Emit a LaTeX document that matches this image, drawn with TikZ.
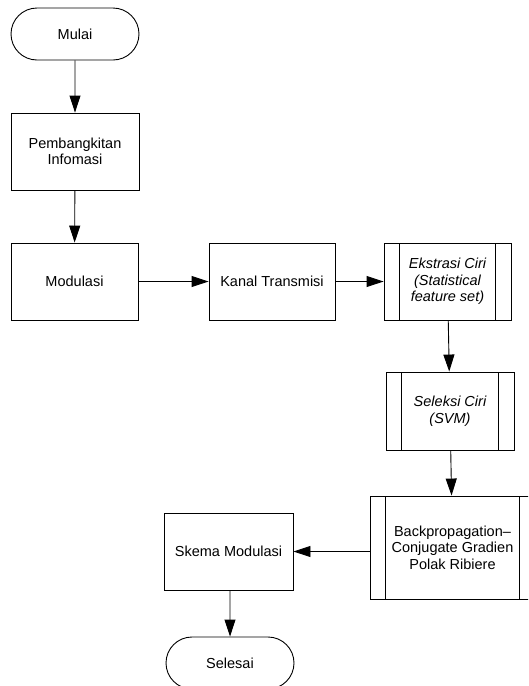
\documentclass[tikz,border=0pt]{standalone}
\usepackage{fontspec}
\setmainfont{Liberation Sans}
\usetikzlibrary{shapes.misc,arrows.meta}
\begin{document}
\begin{tikzpicture}[x=1pt,y=-1pt,
  every node/.style={font=\fontsize{14.5}{16.5}\selectfont, align=center, inner sep=0pt},
  terminal/.style={draw, rounded rectangle, minimum width=128pt, minimum height=52pt, line width=0.9pt},
  procbox/.style={draw, rectangle, line width=0.9pt},
  predef/.style={draw, rectangle, line width=0.9pt,
    path picture={
      \draw[line width=0.9pt] ([xshift=15.5pt]path picture bounding box.north west) -- ([xshift=15.5pt]path picture bounding box.south west);
      \draw[line width=0.9pt] ([xshift=-15.5pt]path picture bounding box.north east) -- ([xshift=-15.5pt]path picture bounding box.south east);}},
  flow/.style={-{Triangle[length=17pt,width=11pt]}, line width=0.9pt}]
\clip (0,0) rectangle (528,686);
\node[terminal] (mulai) at (75,34) {Mulai};
\node[procbox, minimum width=128pt, minimum height=77pt] (gen) at (75,151.5) {Pembangkitan\\Infomasi};
\node[procbox, minimum width=127pt, minimum height=77pt] (mod) at (74.5,281.5) {Modulasi};
\node[procbox, minimum width=126pt, minimum height=77pt] (kanal) at (272,281.5) {Kanal Transmisi};
\node[predef, minimum width=127pt, minimum height=77pt] (eks) at (447.5,281.5) {\itshape Ekstrasi Ciri\\\itshape (Statistical\\\itshape feature set)};
\node[predef, minimum width=128pt, minimum height=78pt] (sel) at (450,411) {\itshape Seleksi Ciri\\\itshape (SVM)};
\node[predef, minimum width=165pt, minimum height=103pt] (bp) at (452.5,547.5) {Backpropagation--\\Conjugate Gradien\\Polak Ribiere};
\node[procbox, minimum width=129pt, minimum height=77pt] (skema) at (228.5,551.5) {Skema Modulasi};
\node[terminal] (selesai) at (230,663) {Selesai};
\draw[flow] (mulai) -- (gen);
\draw[flow] (gen) -- (mod);
\draw[flow] (mod) -- (kanal);
\draw[flow] (kanal) -- (eks);
\draw[flow] (eks) -- (sel);
\draw[flow] (sel) -- (bp);
\draw[flow] (skema.east -| bp.west) -- (skema.east);
\draw[flow] (skema.south -| selesai.north) -- (selesai);
\end{tikzpicture}
\end{document}
